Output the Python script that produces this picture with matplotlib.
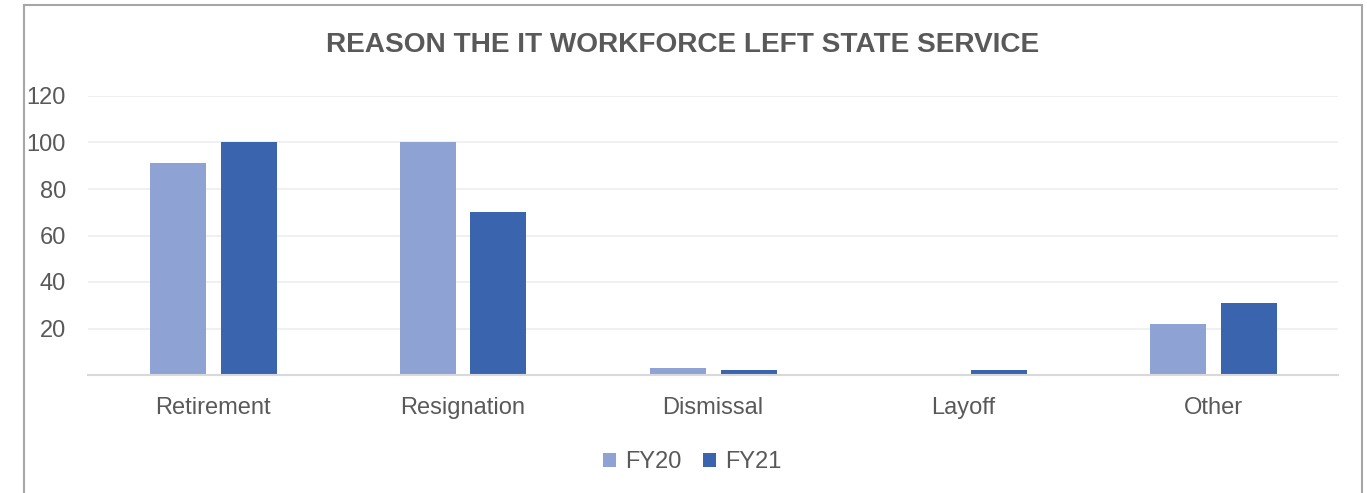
import numpy as np
import matplotlib
matplotlib.use("Agg")
import matplotlib.pyplot as plt
from matplotlib.patches import Rectangle

plt.rcParams['font.family'] = ['Liberation Sans', 'DejaVu Sans']

categories = ["Retirement", "Resignation", "Dismissal", "Layoff", "Other"]
fy20 = [91, 100, 3, 0, 22]
fy21 = [100, 70, 2, 2, 31]
series_names = ["FY20", "FY21"]
yticks = [20, 40, 60, 80, 100, 120]

W, H = 1367, 493
fig = plt.figure(figsize=(W / 100, H / 100), dpi=100)
ax = fig.add_axes([88 / W, (H - 375) / H, 1250 / W, 279 / H])

x = np.arange(len(categories))
bw = 0.224
ax.bar(x - 0.142, fy20, bw, color="#8FA2D4", label=series_names[0])
ax.bar(x + 0.142, fy21, bw, color="#3A64AD", label=series_names[1])

ax.set_xlim(-0.5, len(categories) - 0.5)
ax.set_ylim(0, 120)
ax.set_yticks(yticks)
ax.set_xticks(x)
ax.set_xticklabels(categories)
ax.yaxis.grid(True, color="#EEEEEE", linewidth=1.2)
ax.set_axisbelow(True)
for s in ["top", "right", "left"]:
    ax.spines[s].set_visible(False)
ax.spines["bottom"].set_color("#D9D9D9")
ax.spines["bottom"].set_linewidth(1.5)
ax.tick_params(axis="both", length=0, labelsize=17, colors="#595959")
ax.tick_params(axis="y", pad=16)
ax.tick_params(axis="x", pad=16)

fig.text(683 / W, 1 - 45 / H, "REASON THE IT WORKFORCE LEFT STATE SERVICE",
         ha="center", va="center", fontsize=20.2, fontweight="bold", color="#595959")

fig.legend(loc="center", bbox_to_anchor=(692 / W, 1 - 462 / H), ncol=2, frameon=False,
           fontsize=17, labelcolor="#595959", handlelength=0.55, handleheight=0.55,
           columnspacing=0.9, handletextpad=0.4)

# chart border
fig.patches.append(Rectangle((24 / W, -0.05), 1338 / W, 1 - 5 / H + 0.05, transform=fig.transFigure,
                             fill=False, edgecolor="#A6A6A6", linewidth=1.5))

fig.savefig("out.png", dpi=100)
